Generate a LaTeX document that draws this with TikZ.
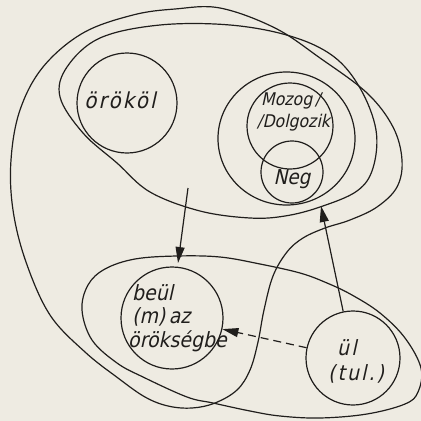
\documentclass[tikz,border=0pt]{standalone}
\usepackage{fontspec}
\newfontfamily\lett[FakeSlant=0.22,LetterSpace=10]{DejaVu Sans Condensed}
\newfontfamily\lettn[FakeSlant=0.22]{DejaVu Sans Condensed}
\usetikzlibrary{arrows.meta,shapes.geometric}
\definecolor{paper}{RGB}{238,235,226}
\definecolor{ink}{RGB}{32,30,28}
\begin{document}
\begin{tikzpicture}[x=1pt,y=-1pt,
  ln/.style={draw=ink,line width=1.2pt},
  circ/.style={ln,circle,inner sep=0pt},
  lab/.style={text=ink,inner sep=0pt,font=\lettn\fontsize{21}{23}\selectfont},
  arr/.style={ln,-{Triangle[length=16pt,width=9pt]}},
]
\path[fill=paper] (0,0) rectangle (421,421);
\useasboundingbox (0,0) rectangle (421,421);

% outer blob
\draw[ln] plot[smooth cycle, tension=0.6] coordinates {(220,8) (275,28) (320,58) (367,93) (393,127) (402,160) (397,187) (377,207) (350,220) (325,228) (303,238) (287,252) (273,276) (264,310) (258,342) (250,370) (237,390) (215,403) (192,408) (168,406) (145,397) (118,378) (85,352) (50,315) (26,262) (13,210) (11,160) (20,110) (43,67) (83,33) (133,15) (175,9)};

% middle ellipse
\draw[ln] plot[smooth cycle, tension=0.6] coordinates {(160,25) (230,25) (290,36) (333,56) (360,88) (376,130) (373,168) (357,191) (320,207) (285,216) (250,218) (200,211) (150,192) (117,163) (83,133) (60,97) (67,67) (100,38)};

% lower ellipse
\draw[ln] plot[smooth cycle, tension=0.6] coordinates {(177,256) (220,257) (260,264) (300,273) (327,283) (352,295) (380,313) (405,338) (421,368) (418,392) (405,404) (367,414) (320,418) (280,416) (250,411) (213,403) (187,397) (143,377) (117,363) (92,340) (82,310) (88,285) (105,269) (135,259)};

% inner ellipse
\node[ln,ellipse,inner sep=0pt,minimum width=137pt,minimum height=133pt] (inner) at (286.5,138.5) {};

% circles
\node[circ,minimum size=100pt] (orokol) at (127,103) {};
\node[circ,minimum size=86pt] (mozog) at (290,126) {};
\node[circ,minimum size=62pt] (neg) at (292,172) {};
\node[circ,minimum size=102pt] (beul) at (172,318) {};
\node[circ,minimum size=94pt] (ul) at (353,358) {};

% texts
\node[lab,anchor=base,font=\lett\fontsize{22}{24}\selectfont] (torokol) at (120,108) {örököl};
\node[lab,anchor=base west,font=\lettn\fontsize{17.5}{20}\selectfont] (tmozog1) at (261,105) {Mozog\,/};
\node[lab,anchor=base west,font=\lettn\fontsize{17.5}{20}\selectfont] (tmozog2) at (257,127) {/Dolgozik};
\node[lab,anchor=base,font=\lettn\fontsize{20.5}{24}\selectfont] (tneg) at (292,184) {Neg};
\node[lab,anchor=base west] (tbeul1) at (132,300) {beül};
\node[lab,anchor=base west] (tbeul2) at (132,323) {(m)\,az};
\node[lab,anchor=base west] (tbeul3) at (128,347) {örökségbe};
\node[lab,anchor=base west,font=\lett\fontsize{21}{23}\selectfont] (tul1) at (337,355) {ül};
\node[lab,anchor=base west,font=\lett\fontsize{21}{23}\selectfont] (tul2) at (328,380) {(tul.)};

% arrows
\coordinate (a1s) at (188,188);
\coordinate (a1e) at (178,263);
\coordinate (a2e) at (321,206);
\draw[arr] (a1s) -- (a1e);
\draw[arr] (ul) -- (a2e);
\draw[arr,dash pattern=on 8pt off 5pt] (ul) -- (beul);
\end{tikzpicture}
\end{document}
